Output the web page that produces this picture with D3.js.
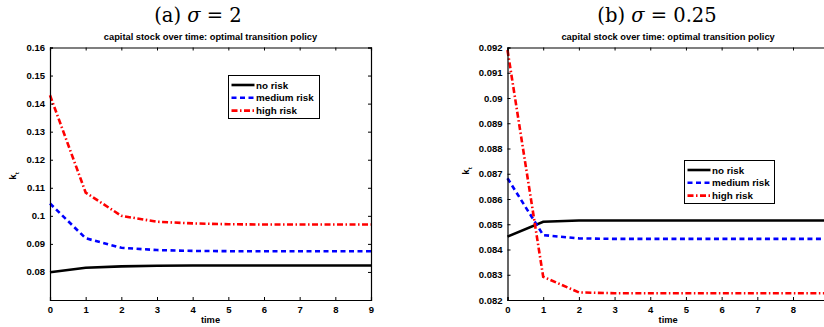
<!DOCTYPE html>
<html>
<head>
<meta charset="utf-8">
<script src="https://cdn.jsdelivr.net/npm/d3@7"></script>
<style>
body { margin: 0; background: #fff; }
svg text { font-family: "Liberation Sans", Arial, sans-serif; font-weight: bold; }
</style>
</head>
<body>
<svg width="824" height="327"></svg>
<script>
var time = [0, 1, 2, 3, 4, 5, 6, 7, 8, 9];
var seriesNames = ["no risk", "medium risk", "high risk"];

// (a) sigma = 2
var noRiskA = [0.0799, 0.0815, 0.0820, 0.0822, 0.0823, 0.0823, 0.0823, 0.0823, 0.0823, 0.0823];
var medRiskA = [0.1044, 0.0920, 0.0886, 0.0878, 0.0875, 0.0874, 0.0874, 0.0874, 0.0874, 0.0874];
var highRiskA = [0.1430, 0.1083, 0.1000, 0.0979, 0.0973, 0.0970, 0.0969, 0.0969, 0.0969, 0.0969];
var yTicksA = [0.08, 0.09, 0.1, 0.11, 0.12, 0.13, 0.14, 0.15, 0.16];

// (b) sigma = 0.25 (right edge of this panel falls outside the picture)
var noRiskB = [0.08451, 0.08510, 0.08515, 0.08515, 0.08515, 0.08515, 0.08515, 0.08515, 0.08515, 0.08515];
var medRiskB = [0.08682, 0.08457, 0.08444, 0.08442, 0.08442, 0.08442, 0.08442, 0.08442, 0.08442, 0.08442];
var highRiskB = [0.09190, 0.08292, 0.08230, 0.08227, 0.08227, 0.08227, 0.08227, 0.08227, 0.08227, 0.08227];
var yTicksB = [0.082, 0.083, 0.084, 0.085, 0.086, 0.087, 0.088, 0.089, 0.09, 0.091, 0.092];
var xLabelsB = [0, 1, 2, 3, 4, 5, 6, 7, 8];

var styles = [
  {color: "#000", dash: null},
  {color: "#0000ff", dash: "5,3.5"},
  {color: "#ff0000", dash: "6,2.5,1.5,2.5"}
];

var svg = d3.select("svg");

function panel(opt) {
  var x = d3.scaleLinear().domain([0, 9]).range([opt.left, opt.right]),
    y = d3.scaleLinear().domain(opt.yDomain).range([300, 47.5]);

  var g = svg.append("g");

  g.append("text")
    .attr("x", opt.titleX).attr("y", 22)
    .attr("text-anchor", "middle")
    .style("font-family", "'DejaVu Serif', 'Liberation Serif', serif")
    .style("font-weight", "normal")
    .style("font-size", "19.5px")
    .html(opt.title);

  g.append("text")
    .attr("x", (opt.left + opt.right) / 2).attr("y", 40)
    .attr("text-anchor", "middle")
    .style("font-size", "9.3px")
    .text("capital stock over time: optimal transition policy");

  var line = d3.line()
    .x(function(d, i) { return x(time[i]); })
    .y(function(d) { return y(d); });

  g.selectAll(".series")
    .data(opt.series)
    .enter().append("path")
    .attr("fill", "none")
    .attr("stroke", function(d, i) { return styles[i].color; })
    .attr("stroke-width", 2.6)
    .attr("stroke-dasharray", function(d, i) { return styles[i].dash; })
    .attr("d", line);

  // axes, ticks inward like matlab
  g.append("g")
    .attr("transform", "translate(0,300)")
    .call(d3.axisBottom(x).tickValues(time).tickSize(-3).tickPadding(6)
      .tickFormat(function(d) { return opt.xLabels.indexOf(d) >= 0 ? d : ""; }))
    .call(styleAxis);
  g.append("g")
    .attr("transform", "translate(0,47.5)")
    .call(d3.axisTop(x).tickValues(time).tickSize(-3).tickFormat(""))
    .call(styleAxis);
  g.append("g")
    .attr("transform", "translate(" + opt.left + ",0)")
    .call(d3.axisLeft(y).tickValues(opt.yTicks).tickSize(-3).tickPadding(5).tickFormat(function(d) { return d3.format("")(+d.toFixed(4)); }))
    .call(styleAxis);
  g.append("g")
    .attr("transform", "translate(" + opt.right + ",0)")
    .call(d3.axisRight(y).tickValues(opt.yTicks).tickSize(-3).tickFormat(""))
    .call(styleAxis);

  g.append("text")
    .attr("x", (opt.left + opt.right) / 2).attr("y", 323)
    .attr("text-anchor", "middle")
    .style("font-size", "9.3px")
    .text("time");

  var yl = g.append("text")
    .attr("transform", "translate(" + opt.yLabelX + "," + opt.yLabelY + ") rotate(-90)")
    .attr("text-anchor", "middle")
    .style("font-size", "9.5px");
  yl.append("tspan").text("k");
  yl.append("tspan").attr("dy", 3).style("font-size", "6px").text("t");

  // legend
  var lg = g.append("g").attr("transform", "translate(" + opt.legX + "," + opt.legY + ")");
  lg.append("rect")
    .attr("width", opt.legW).attr("height", 43)
    .attr("fill", "#fff").attr("stroke", "#000").attr("stroke-width", 1);
  var items = lg.selectAll(".item")
    .data(seriesNames)
    .enter().append("g")
    .attr("transform", function(d, i) { return "translate(0," + (9.5 + i * 12.8) + ")"; });
  items.append("line")
    .attr("x1", 3).attr("x2", 26)
    .attr("stroke", function(d, i) { return styles[i].color; })
    .attr("stroke-width", 2.6)
    .attr("stroke-dasharray", function(d, i) { return styles[i].dash; });
  items.append("text")
    .attr("x", 27.5).attr("y", 3.6)
    .style("font-size", "9.8px")
    .text(function(d) { return d; });
}

function styleAxis(sel) {
  sel.select(".domain").attr("stroke", "#000").attr("stroke-width", 1.2);
  sel.selectAll(".tick line").attr("stroke", "#000");
  sel.selectAll(".tick text").attr("fill", "#000").style("font-size", "9.5px").style("font-weight", "bold");
}

panel({
  left: 50, right: 371, yDomain: [0.07, 0.16], yTicks: yTicksA, xLabels: time,
  title: "(a) <tspan font-style='italic'>σ</tspan> = 2", titleX: 198,
  series: [noRiskA, medRiskA, highRiskA],
  yLabelX: 16, yLabelY: 176,
  legX: 228.5, legY: 75.5, legW: 91
});

panel({
  left: 507.5, right: 828.7, yDomain: [0.082, 0.092], yTicks: yTicksB, xLabels: xLabelsB,
  title: "(b) <tspan font-style='italic'>σ</tspan> = 0.25", titleX: 657,
  series: [noRiskB, medRiskB, highRiskB],
  yLabelX: 469, yLabelY: 171,
  legX: 684.5, legY: 160.5, legW: 90
});
</script>
</body>
</html>
